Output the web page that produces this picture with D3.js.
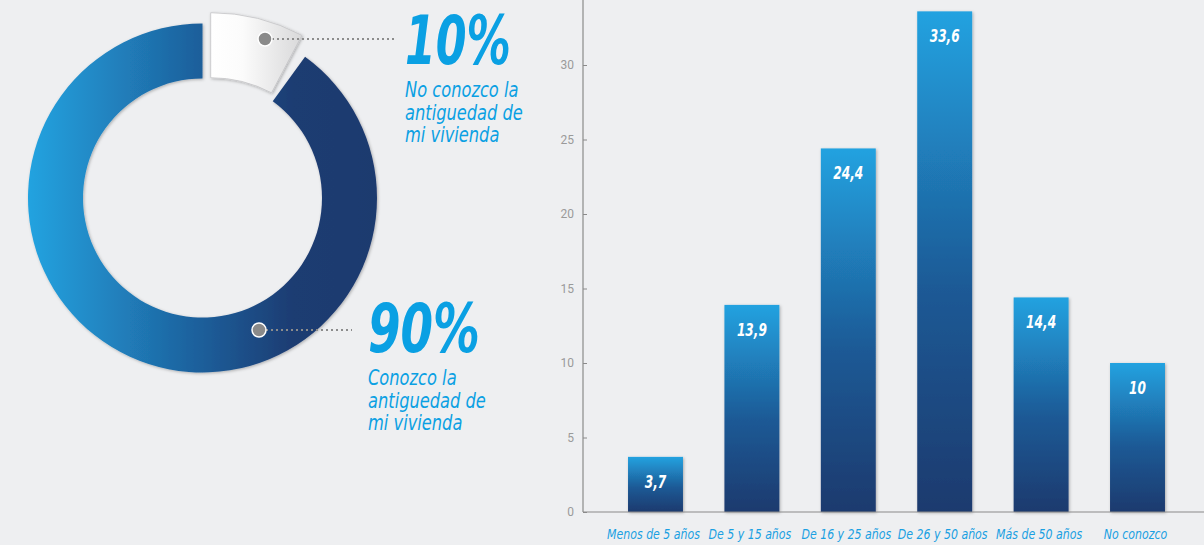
<!DOCTYPE html>
<html><head><meta charset="utf-8">
<script src="https://cdn.jsdelivr.net/npm/d3@7"></script>
<style>
html,body{margin:0;padding:0;background:#eeeff1;}
svg{display:block;}
.cond{font-family:"DejaVu Sans Condensed","DejaVu Sans","Roboto",sans-serif;font-style:italic;}
</style></head>
<body>
<svg id="c" width="1204" height="545"></svg>
<script>
// ---- data ----
const donutPercents = ["10%", "90%"];
const donutValues = [10, 90];
const donutLines = [["No conozco la","antiguedad de","mi vivienda"],["Conozco la","antiguedad de","mi vivienda"]];

const categories = ["Menos de 5 años","De 5 y 15 años","De 16 y 25 años","De 26 y 50 años","Más de 50 años","No conozco"];
const values = [3.7, 13.9, 24.4, 33.6, 14.4, 10];
const valueLabels = ["3,7","13,9","24,4","33,6","14,4","10"];
const yTicks = [0,5,10,15,20,25,30];

const svg = d3.select("#c");
const defs = svg.append("defs");

// helper: horizontally condense a text element by factor k around anchor x
function condense(sel, k){
  sel.each(function(){
    const t = d3.select(this);
    const xx = +t.attr("x"), yy = +t.attr("y");
    t.attr("x",0).attr("y",0).attr("transform",`translate(${xx},${yy}) scale(${k},1)`);
  });
}
function measure(str, size, weight){
  const t = svg.append("text").attr("class","cond").attr("font-size",size).attr("font-weight",weight||"normal").text(str);
  const w = t.node().getComputedTextLength(); t.remove(); return w;
}

// gradients & filters
const cx = 202.5, cy = 198, rIn = 119.5, rOut = 174.5;
const gRing = defs.append("linearGradient").attr("id","gRing").attr("gradientUnits","userSpaceOnUse")
  .attr("x1",-rOut).attr("x2",rOut).attr("y1",0).attr("y2",0);
[[0,"#24a3e0"],[0.5,"#1d5e9a"],[0.76,"#1f3c72"],[1,"#1f3a6e"]].forEach(s=>gRing.append("stop").attr("offset",s[0]).attr("stop-color",s[1]));
const gWhite = defs.append("linearGradient").attr("id","gWhite").attr("x1",0).attr("x2",1).attr("y1",0).attr("y2",0);
[[0,"#ffffff"],[0.35,"#fbfbfb"],[1,"#d9d9da"]].forEach(s=>gWhite.append("stop").attr("offset",s[0]).attr("stop-color",s[1]));
const gBar = defs.append("linearGradient").attr("id","gBar").attr("x1",0).attr("x2",0).attr("y1",0).attr("y2",1);
[[0,"#23a2e0"],[0.55,"#1d5a96"],[1,"#1f3a6e"]].forEach(s=>gBar.append("stop").attr("offset",s[0]).attr("stop-color",s[1]));
const sh = defs.append("filter").attr("id","sh").attr("x","-10%").attr("y","-10%").attr("width","120%").attr("height","120%");
sh.append("feDropShadow").attr("dx",1).attr("dy",1).attr("stdDeviation",1.5).attr("flood-color","#000").attr("flood-opacity",0.28);

// ---- donut ----
const pie = d3.pie().sort(null).value(d=>d);
const arcs = pie(donutValues);
const arcMain = d3.arc().innerRadius(rIn).outerRadius(rOut);
const dg = svg.append("g").attr("transform",`translate(${cx},${cy})`);
dg.append("path").attr("d",arcMain(arcs[1])).attr("fill","url(#gRing)").attr("filter","url(#sh)");

// exploded small slice
const ex = arcs[0];
const arcEx = d3.arc().innerRadius(130).outerRadius(195);
const exSlice = {startAngle: ex.startAngle, endAngle: ex.startAngle + (ex.endAngle-ex.startAngle)*0.775};
svg.append("g").attr("transform",`translate(${cx+8.2},${cy+9.7})`)
  .append("path").attr("d",arcEx(exSlice)).attr("fill","url(#gWhite)")
  .attr("stroke","#c4c4c6").attr("stroke-width",0.8).attr("filter","url(#sh)");

// leader lines, dots, labels
const dots = [{x:265,y:39,lx:395},{x:259,y:330,lx:352}];
const textPos = [{x:405,y:64},{x:368,y:352}];
const kSub = 118 / measure("antiguedad de", 21);
dots.forEach((d,i)=>{
  svg.append("line").attr("x1",d.x+7).attr("x2",d.lx).attr("y1",d.y).attr("y2",d.y)
    .attr("stroke","#8c8c8c").attr("stroke-width",2).attr("stroke-dasharray","2,3");
  svg.append("circle").attr("cx",d.x).attr("cy",d.y).attr("r",7).attr("fill","#8a8a8a").attr("stroke","#fff").attr("stroke-width",1.5);
  const tp = textPos[i];
  svg.append("text").attr("class","cond").attr("x",tp.x).attr("y",tp.y)
    .attr("font-size",68).attr("font-weight","bold").attr("fill","#0aa0e3")
    .attr("textLength",i===0?106:112).attr("lengthAdjust","spacingAndGlyphs")
    .text(donutPercents[i]);
  donutLines[i].forEach((ln,j)=>{
    svg.append("text").attr("class","cond").attr("x",tp.x).attr("y",tp.y+33+j*22.5)
      .attr("font-size",21).attr("fill","#0aa0e3").text(ln).call(condense,kSub);
  });
});

// ---- bar chart ----
const x0 = 583, yZero = 512;
const x = d3.scaleBand().domain(categories).range([x0,1210]).paddingInner(0.43).paddingOuter(0.467);
const y = d3.scaleLinear().domain([0,30]).range([yZero,65]);

const bg = svg.append("g");
bg.selectAll("rect.bar").data(values).enter().append("rect").attr("class","bar")
  .attr("x",(d,i)=>x(categories[i])).attr("width",x.bandwidth())
  .attr("y",d=>y(d)).attr("height",d=>yZero-y(d))
  .attr("fill","url(#gBar)").attr("filter","url(#sh)");
const kVal = 30 / measure("33,6", 18, "bold");
bg.selectAll("text.val").data(values).enter().append("text").attr("class","cond val")
  .attr("x",(d,i)=>x(categories[i])+x.bandwidth()/2).attr("y",d=>y(d)+31)
  .attr("text-anchor","middle").attr("font-size",18).attr("font-weight","bold").attr("fill","#fff")
  .text((d,i)=>valueLabels[i]).call(condense,kVal);

// y axis
const yAxis = d3.axisLeft(y).tickValues(yTicks).tickSizeInner(-4).tickSizeOuter(0).tickPadding(9);
const ya = svg.append("g").attr("transform",`translate(${x0},0)`).call(yAxis);
ya.select(".domain").remove();
ya.selectAll(".tick line").attr("stroke","#8a8a8a");
ya.selectAll(".tick text").attr("fill","#9a9a9a").attr("font-size",12).attr("font-family","Roboto, sans-serif");
svg.append("line").attr("x1",x0).attr("x2",x0).attr("y1",0).attr("y2",yZero).attr("stroke","#8a8a8a").attr("stroke-width",1.2);

// x axis
const kCat = 93 / measure("Menos de 5 años", 14);
const xa = svg.append("g");
xa.selectAll("text.cat").data(categories).enter().append("text").attr("class","cond cat")
  .attr("x",d=>x(d)+x.bandwidth()/2 - 2).attr("y",yZero+27).attr("text-anchor","middle")
  .attr("fill","#1aa0e2").attr("font-size",14).text(d=>d).call(condense,kCat);
svg.append("line").attr("x1",x0).attr("x2",1204).attr("y1",yZero).attr("y2",yZero).attr("stroke","#8a8a8a").attr("stroke-width",1.2);
</script>
</body></html>
